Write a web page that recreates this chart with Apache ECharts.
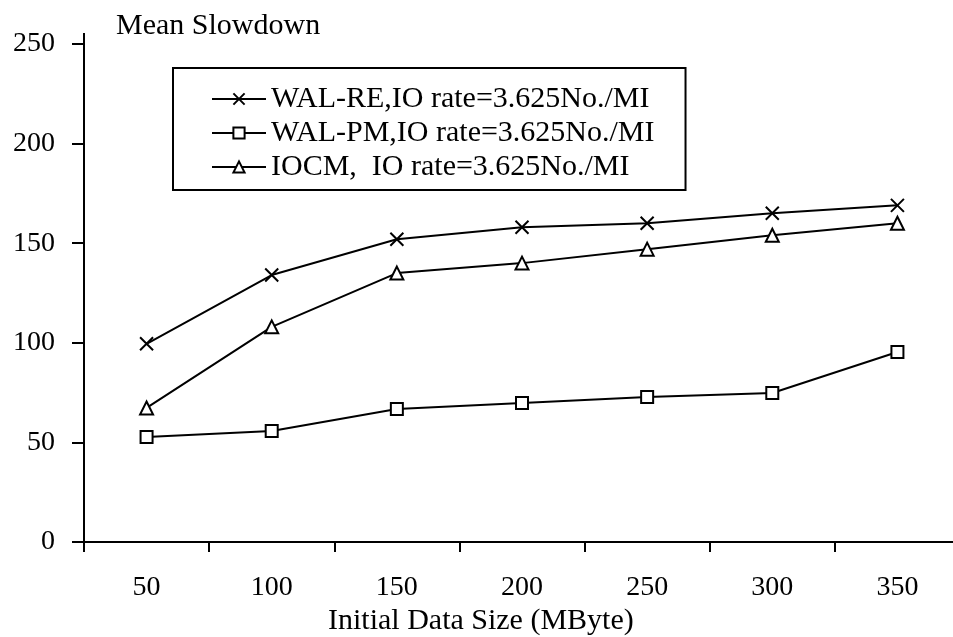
<!DOCTYPE html>
<html>
<head>
<meta charset="utf-8">
<script src="https://cdn.jsdelivr.net/npm/echarts@6/dist/echarts.min.js"></script>
<style>html,body{margin:0;padding:0;background:#fff;overflow:hidden}#c{width:961px;height:637px}</style>
</head>
<body>
<div id="c"></div>
<script>
const categories = ['50', '100', '150', '200', '250', '300', '350'];
const walRE = [99.5, 134, 152, 158, 160, 165, 169];
const walPM = [52.7, 55.7, 66.8, 69.8, 72.8, 74.8, 95.4];
const iocm = [67.3, 108, 135, 140, 147, 154, 160];
const yTicks = [0, 50, 100, 150, 200, 250];
const seriesNames = ['WAL-RE,IO rate=3.625No./MI', 'WAL-PM,IO rate=3.625No./MI', 'IOCM,  IO rate=3.625No./MI'];

const FONT = 'Liberation Serif, Times New Roman, serif';
const chart = echarts.init(document.getElementById('c'), null, {renderer: 'canvas'});
const crossPath = 'path://M0,0L10,10M10,0L0,10';

function mk(name, data, symbol, size) {
  return {
    name: name, type: 'line', data: data, symbol: symbol, symbolSize: size,
    showAllSymbol: true, animation: false,
    lineStyle: {color: '#000', width: 2},
    itemStyle: {color: '#fff', borderColor: '#000', borderWidth: 2},
    emphasis: {disabled: true}
  };
}

chart.setOption({
  backgroundColor: '#fff',
  animation: false,
  grid: {left: 84, top: 44, width: 876, height: 498, containLabel: false},
  xAxis: {
    type: 'category', data: categories, boundaryGap: true,
    axisLine: {lineStyle: {color: '#000', width: 2}},
    axisTick: {show: true, length: 10, lineStyle: {color: '#000', width: 2}},
    axisLabel: {color: '#000', fontFamily: FONT, fontSize: 28, margin: 32},
    splitLine: {show: false}
  },
  yAxis: {
    type: 'value', min: yTicks[0], max: yTicks[yTicks.length - 1], interval: 50,
    axisLine: {show: true, lineStyle: {color: '#000', width: 2}},
    axisTick: {show: true, length: 12, lineStyle: {color: '#000', width: 2}},
    axisLabel: {color: '#000', fontFamily: FONT, fontSize: 28, margin: 29, padding: [7, 0, 0, 0]},
    splitLine: {show: false}
  },
  legend: {
    orient: 'vertical', left: 173, top: 68,
    backgroundColor: '#fff', borderColor: '#000', borderWidth: 2, borderRadius: 0,
    padding: [16, 31, 8, 38],
    itemWidth: 54, itemHeight: 14, itemGap: 4, itemTextGap: 11,
    selectedMode: false,
    textStyle: {color: '#000', fontFamily: FONT, fontSize: 30, lineHeight: 28},
    data: seriesNames
  },
  series: [
    mk(seriesNames[0], walRE, crossPath, 13),
    mk(seriesNames[1], walPM, 'rect', 12),
    mk(seriesNames[2], iocm, 'triangle', 13)
  ]
});

// short extension of the y axis line above its top tick, as in the reference
const topPt = chart.convertToPixel({gridIndex: 0}, [0, yTicks[yTicks.length - 1]]);
const grid = chart.getModel().getComponent('grid').coordinateSystem.getRect();
chart.setOption({
  graphic: [
    {type: 'text', left: 116, top: 11, style: {text: 'Mean Slowdown', fill: '#000', font: '30px ' + FONT}},
    {type: 'text', left: 328, top: 606, style: {text: 'Initial Data Size (MByte)', fill: '#000', font: '30px ' + FONT}},
    {type: 'line', shape: {x1: grid.x, y1: topPt[1], x2: grid.x, y2: topPt[1] - 11}, style: {stroke: '#000', lineWidth: 2}}
  ]
});
</script>
</body>
</html>
